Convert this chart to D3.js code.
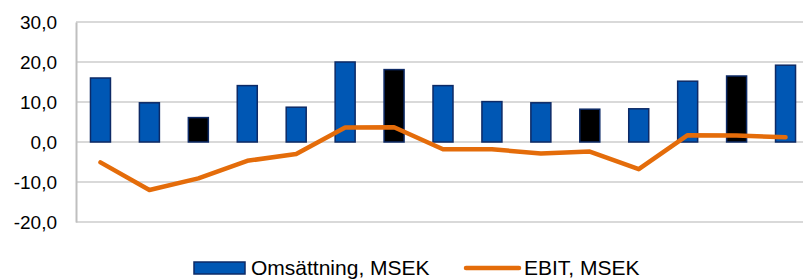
<!DOCTYPE html>
<html>
<head>
<meta charset="utf-8">
<script src="https://d3js.org/d3.v7.min.js"></script>
<style>
body { margin: 0; background: #fff; font-family: 'Liberation Sans', Arial, sans-serif; }
svg { display: block; }
</style>
</head>
<body>
<svg width="803" height="280"></svg>
<script>
var svg = d3.select("svg");

// data
var periods = d3.range(1, 16).map(String);
var omsattning = [16.0, 9.8, 6.1, 14.1, 8.7, 20.0, 18.1, 14.1, 10.1, 9.8, 8.2, 8.3, 15.2, 16.5, 19.2];
var ebit = [-5.1, -12.0, -9.1, -4.7, -3.0, 3.6, 3.7, -1.8, -1.8, -2.9, -2.4, -6.8, 1.7, 1.6, 1.2];
var highlighted = [false, false, true, false, false, false, true, false, false, false, true, false, false, true, false];
var yTicks = [-20, -10, 0, 10, 20, 30];

var x = d3.scaleBand()
  .domain(periods)
  .range([76, 810]);

var y = d3.scaleLinear()
  .domain([-20, 30])
  .range([222, 22]);

var fmt = function(d) { return d3.format(".1f")(d).replace(".", ",").replace("−", "-"); };

// gridlines
svg.append("g")
  .selectAll("line")
  .data(yTicks)
  .join("line")
  .attr("x1", 76).attr("x2", 803)
  .attr("y1", function(d) { return y(d); })
  .attr("y2", function(d) { return y(d); })
  .attr("stroke", "#d9d9d9")
  .attr("stroke-width", 2);

// y axis
var yAxis = d3.axisLeft(y).tickValues(yTicks).tickFormat(fmt).tickSize(0).tickPadding(19);
var ya = svg.append("g").attr("transform", "translate(76,0)").call(yAxis);
ya.select(".domain").attr("stroke", "#bfbfbf").attr("stroke-width", 2);
ya.selectAll("text").attr("font-size", "19px").attr("fill", "#000")
  .attr("font-family", "'Liberation Sans', Arial, sans-serif");

// bars
var bw = 20;
svg.append("g")
  .selectAll("rect")
  .data(omsattning)
  .join("rect")
  .attr("x", function(d, i) { return x(periods[i]) + x.bandwidth() / 2 - bw / 2; })
  .attr("y", function(d) { return y(d); })
  .attr("width", bw)
  .attr("height", function(d) { return y(0) - y(d); })
  .attr("fill", function(d, i) { return highlighted[i] ? "#000" : "#0057b4"; })
  .attr("stroke", "#0d2a66")
  .attr("stroke-width", 1.5);

// EBIT line
var line = d3.line()
  .x(function(d, i) { return x(periods[i]) + x.bandwidth() / 2; })
  .y(function(d) { return y(d); });

svg.append("path")
  .datum(ebit)
  .attr("d", line)
  .attr("fill", "none")
  .attr("stroke", "#e46c0a")
  .attr("stroke-width", 4.5)
  .attr("stroke-linejoin", "round")
  .attr("stroke-linecap", "round");

// legend
var leg = svg.append("g");
leg.append("rect")
  .attr("x", 194).attr("y", 262).attr("width", 51).attr("height", 12)
  .attr("fill", "#0057b4").attr("stroke", "#0d2a66").attr("stroke-width", 1.5);
leg.append("text")
  .attr("x", 251).attr("y", 275)
  .attr("font-size", "21px")
  .text("Omsättning, MSEK");
leg.append("line")
  .attr("x1", 466).attr("x2", 519).attr("y1", 268).attr("y2", 268)
  .attr("stroke", "#e46c0a").attr("stroke-width", 4.5).attr("stroke-linecap", "round");
leg.append("text")
  .attr("x", 524).attr("y", 275)
  .attr("font-size", "21px")
  .text("EBIT, MSEK");
</script>
</body>
</html>
